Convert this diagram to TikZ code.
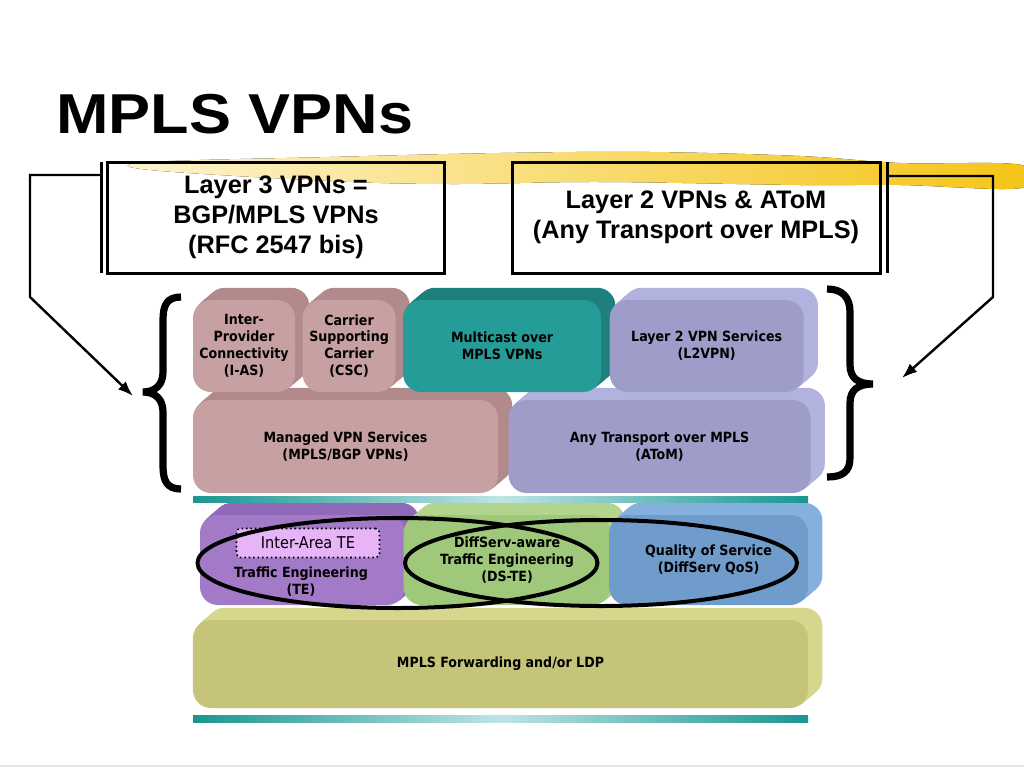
\documentclass[tikz,border=0pt]{standalone}
\usepackage{fontspec}
\setmainfont{Liberation Sans}
\newfontfamily\blockfont{DejaVu Sans Condensed}
\usetikzlibrary{positioning, arrows.meta}

\definecolor{roseF}{RGB}{199,160,162}
\definecolor{roseB}{RGB}{178,138,140}
\definecolor{tealF}{RGB}{38,156,152}
\definecolor{tealB}{RGB}{30,128,124}
\definecolor{lavF}{RGB}{158,156,200}
\definecolor{lavB}{RGB}{178,178,222}
\definecolor{purF}{RGB}{163,122,200}
\definecolor{purB}{RGB}{145,105,185}
\definecolor{grnF}{RGB}{160,200,122}
\definecolor{grnB}{RGB}{178,212,140}
\definecolor{bluF}{RGB}{112,156,204}
\definecolor{bluB}{RGB}{132,176,222}
\definecolor{oliF}{RGB}{198,196,120}
\definecolor{oliB}{RGB}{214,214,140}
\definecolor{iaFill}{RGB}{232,180,248}
\definecolor{barTeal}{RGB}{26,150,146}
\definecolor{barLight}{RGB}{190,228,228}
\definecolor{brush}{RGB}{244,196,20}

\pgfdeclarelayer{paper}
\pgfdeclarelayer{depth}
\pgfsetlayers{paper,depth,main}

\tikzset{every node/.style={inner sep=0pt}, % no padding, sizes are set per node
block/.style={ % front face of a layer block
rounded corners=4.5mm, align=center,
font=\blockfont\bfseries\fontsize{10}{12}\selectfont},
headbox/.style={ % the two framed headings
draw, line width=0.75mm, align=center,
font=\bfseries\fontsize{18}{21.5}\selectfont},
conn/.style={ % bent arrows to the braces
draw, line width=0.6mm, -{Latex[length=3.8mm,width=2.8mm]}},
ring/.style={draw, line width=1mm},
brace/.style={draw, line width=1.8mm},
tealbar/.style={left color=barTeal, right color=barTeal, middle color=barLight}}

\begin{document}
\begin{tikzpicture}[x=0.25mm, y=-0.25mm]

    \begin{pgfonlayer}{paper}
    \fill[white] (0,0) rectangle (1024,768);
    \end{pgfonlayer}
    \useasboundingbox (0,0) rectangle (1024,768);

    % brush stroke under the title
    \fill[left color=brush!20, right color=brush] plot[smooth cycle, tension=0.6] coordinates
      {(150,162) (330,157) (500,153) (650,152) (800,156) (900,163) (1022,165)
       (1022,188) (900,185) (800,185) (600,182) (450,184) (330,181) (150,170)};
    \draw[gray!20, line width=0.3mm] (0,766) -- (1024,766);

    \node[anchor=base west, xscale=1.12, transform shape,
      font=\bfseries\fontsize{40}{48}\selectfont] (title) at (56,133) {MPLS VPNs};

    % headings
    \node[headbox, minimum width=84mm, minimum height=27.75mm] (l3) at (276,217.5)
      {Layer 3 VPNs =\\BGP/MPLS VPNs\\(RFC 2547 bis)};
    \node[headbox, minimum width=92mm, minimum height=27.75mm] (l2) at (696,217.5)
      {Layer 2 VPNs \& AToM\\(Any Transport over MPLS)};

    \coordinate (l3top) at (101,162);
    \coordinate (l3bot) at (101,273);
    \coordinate (l3bar) at (101,175);
    \coordinate (l3bend) at (30,297);
    \coordinate (l3tip) at (133,396);
    \coordinate (l2top) at (887,162);
    \coordinate (l2bot) at (887,273);
    \coordinate (l2bar) at (887,176);
    \coordinate (l2bend) at (993,297);
    \coordinate (l2tip) at (902,378);

    \draw[line width=0.75mm] (l3top) -- (l3bot);
    \draw[line width=0.75mm] (l2top) -- (l2bot);
    \draw[conn] (l3bar) -| (l3bend) -- (l3tip);
    \draw[conn] (l2bar) -| (l2bend) -- (l2tip);

    % braces
    \draw[brace] (181,297) .. controls (167,297) and (163,305) .. (163,320) -- (163,372)
      .. controls (163,385) and (155,392) .. (143,392)
      .. controls (155,392) and (163,399) .. (163,412) -- (163,466)
      .. controls (163,481) and (167,489) .. (181,489);
    \draw[brace] (827,289) .. controls (842,289) and (850,297) .. (850,312) -- (850,365)
      .. controls (850,378) and (858,384) .. (873,384)
      .. controls (858,384) and (850,390) .. (850,403) -- (850,458)
      .. controls (850,472) and (842,477) .. (827,477);

    % service blocks
    \node[block, fill=roseF, minimum width=25.5mm, minimum height=23mm] (ias) at (244,346)
      {Inter-\\Provider\\Connectivity\\(I-AS)};
    \node[block, fill=roseF, minimum width=23.25mm, minimum height=23mm, right=1.75mm of ias] (csc)
      {Carrier\\Supporting\\Carrier\\(CSC)};
    \node[block, fill=tealF, minimum width=49.5mm, minimum height=23mm, right=1.75mm of csc] (mcast)
      {Multicast over\\MPLS VPNs};
    \node[block, fill=lavF, minimum width=48.5mm, minimum height=23mm, right=2mm of mcast] (l2vpn)
      {Layer 2 VPN Services\\(L2VPN)};
    \node[block, fill=roseF, minimum width=76.25mm, minimum height=23.25mm] (mvpn) at (345.5,446.5)
      {Managed VPN Services\\(MPLS/BGP VPNs)};
    \node[block, fill=lavF, minimum width=75.5mm, minimum height=23.25mm, right=2.5mm of mvpn] (atom)
      {Any Transport over MPLS\\(AToM)};

    \fill[tealbar] (193,496) rectangle (808,502);

    % transport blocks
    \node[block, fill=purF, minimum width=51.25mm, minimum height=22.5mm] (te) at (302.5,560) {};
    \node[block, fill=grnF, minimum width=51.75mm, minimum height=22.5mm, right=-0.5mm of te] (dste)
      {DiffServ-aware\\Traffic Engineering\\(DS-TE)};
    \node[block, fill=bluF, minimum width=49.75mm, minimum height=22.5mm, right=-0.5mm of dste] (qos)
      {Quality of Service\\(DiffServ QoS)};
    \node[block, fill=oliF, minimum width=153.75mm, minimum height=22mm] (fwd) at (500.5,664)
      {MPLS Forwarding and/or LDP};
    \node[block] (tetext) at (301,582) {Traffic Engineering\\(TE)};
    \node[draw, dotted, line width=0.4mm, fill=iaFill, rounded corners=1mm,
      minimum width=35.75mm, minimum height=7.25mm,
      font=\blockfont\fontsize{11.5}{13}\selectfont] (iate) at (308,543) {Inter-Area TE};

    \fill[tealbar] (193,715) rectangle (808,722);

    % depth of the blocks
    \begin{pgfonlayer}{depth}
    \foreach \n/\c in {ias/roseB, csc/roseB, mcast/tealB, l2vpn/lavB, mvpn/roseB,
                       atom/lavB, te/purB, dste/grnB, qos/bluB, fwd/oliB}
      \foreach \k in {1,...,7}
        \fill[\c, rounded corners=4.5mm] ([shift={(2*\k,-1.7*\k)}]\n.south west)
          rectangle ([shift={(2*\k,-1.7*\k)}]\n.north east);
    \end{pgfonlayer}

    % TE and QoS rings
    \draw[ring] (397.5,563) ellipse [x radius=200, y radius=45];
    \draw[ring] (601,563) ellipse [x radius=196, y radius=43];

\end{tikzpicture}
\end{document}
